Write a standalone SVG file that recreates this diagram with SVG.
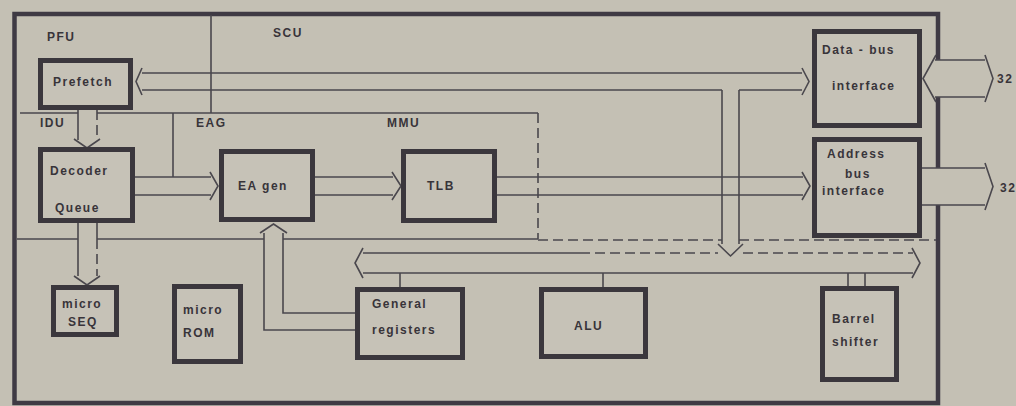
<svg xmlns="http://www.w3.org/2000/svg" width="1016" height="406" viewBox="0 0 1016 406">
<style>
.bg{fill:#c4c0b4}
.frame{fill:none;stroke:#3f3a44;stroke-width:4.5;stroke-linejoin:miter}
.box{fill:#c6c2b7;stroke:#3b373d;stroke-width:5}
.ln{fill:none;stroke:#4a474d;stroke-width:1.6;stroke-linejoin:miter}
.dsh{fill:none;stroke:#4a474d;stroke-width:1.6;stroke-dasharray:10 5}
.t{font-family:"Liberation Sans",Arial,sans-serif;font-weight:bold;font-size:12px;letter-spacing:1.5px;fill:#38343a}
.c{text-anchor:middle}
</style>
<rect class="bg" x="0" y="0" width="1016" height="406"/>

<g id="frame">
<path class="frame" d="M938,60 L938,14 L14.5,14 L14.5,403 L938,403 L938,205"/>
<path class="frame" d="M938,97 L938,168"/>
</g>

<g id="region-labels">
<text class="t" x="47" y="41">PFU</text>
<text class="t" x="273" y="37">SCU</text>
<text class="t" x="40" y="127">IDU</text>
<text class="t" x="196" y="127">EAG</text>
<text class="t" x="387" y="127">MMU</text>
</g>

<g id="connectors">
<!-- region dividers -->
<path class="ln" d="M211,15 L211,113"/>
<path class="ln" d="M20,113 L78,113 M97,113 L538,113"/>
<path class="dsh" d="M538,113 L538,239"/>
<path class="ln" d="M173,113 L173,177"/>
<!-- horizontal line y=239 -->
<path class="ln" d="M17,239 L78,239 M97,239 L264,239 M283,239 L538,239"/>
<path class="dsh" d="M538,240 L722,240 M739,240 L936,240"/>
<!-- Prefetch <-> Data-bus interface -->
<path class="ln" d="M142,73 L802,73 M142,90 L722,90 M739,90 L802,90"/>
<path class="ln" d="M142,68 L136,81.5 L142,95"/>
<path class="ln" d="M802,68 L809,81.5 L802,95"/>
<!-- Data bus down to internal bus -->
<path class="ln" d="M722,90 L722,244 M739,90 L739,244"/>
<path class="ln" d="M718,244 L730.5,256 L743,244"/>
<!-- Prefetch -> Decoder -->
<path class="ln" d="M78,110 L78,140"/>
<path class="dsh" d="M97,110 L97,140"/>
<path class="ln" d="M74,139 L87,148 L100,139"/>
<!-- Decoder -> micro SEQ -->
<path class="ln" d="M78,223 L78,276 M97,223 L97,239"/>
<path class="dsh" d="M97,239 L97,276"/>
<path class="ln" d="M74,276 L87,285 L100,276"/>
<!-- Decoder -> EA gen -->
<path class="ln" d="M135,177 L211,177 M135,195 L211,195"/>
<path class="ln" d="M210,172 L218,186 L210,200"/>
<!-- EA gen -> TLB -->
<path class="ln" d="M315,177 L393,177 M315,195 L393,195"/>
<path class="ln" d="M392,172 L401,186 L392,200"/>
<!-- TLB -> Address bus interface -->
<path class="ln" d="M497,177 L803,177 M497,195 L803,195"/>
<path class="ln" d="M802,172 L810,186 L802,200"/>
<!-- General registers -> EA gen -->
<path class="ln" d="M355,330 L264,330 L264,233 M355,313 L283,313 L283,239"/>
<path class="dsh" d="M283,239 L283,233"/>
<path class="ln" d="M260,233 L273.5,224 L287,233"/>
<!-- internal bus -->
<path class="ln" d="M363,253 L580,253 M363,273 L913,273"/>
<path class="dsh" d="M580,253 L718,253 M743,253 L913,253"/>
<path class="ln" d="M363,248 L355,263 L363,278"/>
<path class="ln" d="M912,248 L920,263 L912,278"/>
<!-- bus taps -->
<path class="ln" d="M400,273 L400,287 M603,273 L603,287 M848,273 L848,286 M865,273 L865,286"/>
<!-- external data bus (32) -->
<path class="ln" d="M935,60 L985,60 M935,97 L985,97"/>
<path class="ln" d="M936,55 L923,78.5 L936,102"/>
<path class="ln" d="M985,55 L993,78.5 L985,102"/>
<!-- external address bus (32) -->
<path class="ln" d="M922,168 L985,168 M922,205 L985,205"/>
<path class="ln" d="M985,163 L993,186.5 L985,210"/>
</g>

<g id="n-prefetch"><rect class="box" x="40.5" y="60.5" width="90" height="47"/><text class="t" x="53" y="86">Prefetch</text></g>
<g id="n-decoder"><rect class="box" x="40.5" y="149.5" width="92" height="71"/><text class="t" x="50" y="175">Decoder</text><text class="t" x="55" y="212">Queue</text></g>
<g id="n-eagen"><rect class="box" x="221.5" y="151.5" width="91" height="68"/><text class="t" x="238" y="190">EA gen</text></g>
<g id="n-tlb"><rect class="box" x="403.5" y="151.5" width="91" height="69"/><text class="t" x="427" y="190">TLB</text></g>
<g id="n-databus"><rect class="box" x="814.5" y="31.5" width="105" height="94"/><text class="t" x="822" y="54">Data - bus</text><text class="t" x="832" y="90">interface</text></g>
<g id="n-addrbus"><rect class="box" x="814.5" y="139.5" width="105" height="96"/><text class="t" x="827" y="158">Address</text><text class="t" x="845" y="178">bus</text><text class="t" x="822" y="195">interface</text></g>
<g id="n-microseq"><rect class="box" x="53.5" y="287.5" width="63" height="47"/><text class="t" x="62" y="308">micro</text><text class="t" x="68" y="326">SEQ</text></g>
<g id="n-microrom"><rect class="box" x="174.5" y="286.5" width="66" height="75"/><text class="t" x="183" y="314">micro</text><text class="t" x="183" y="337">ROM</text></g>
<g id="n-genreg"><rect class="box" x="357.5" y="289.5" width="105" height="68"/><text class="t" x="372" y="308">General</text><text class="t" x="372" y="334">registers</text></g>
<g id="n-alu"><rect class="box" x="541.5" y="289.5" width="104" height="67"/><text class="t" x="574" y="330">ALU</text></g>
<g id="n-barrel"><rect class="box" x="822.5" y="288.5" width="74" height="91"/><text class="t" x="832" y="323">Barrel</text><text class="t" x="832" y="346">shifter</text></g>

<g id="bus-widths">
<text class="t" x="997" y="83">32</text>
<text class="t" x="1000" y="192">32</text>
</g>
</svg>
